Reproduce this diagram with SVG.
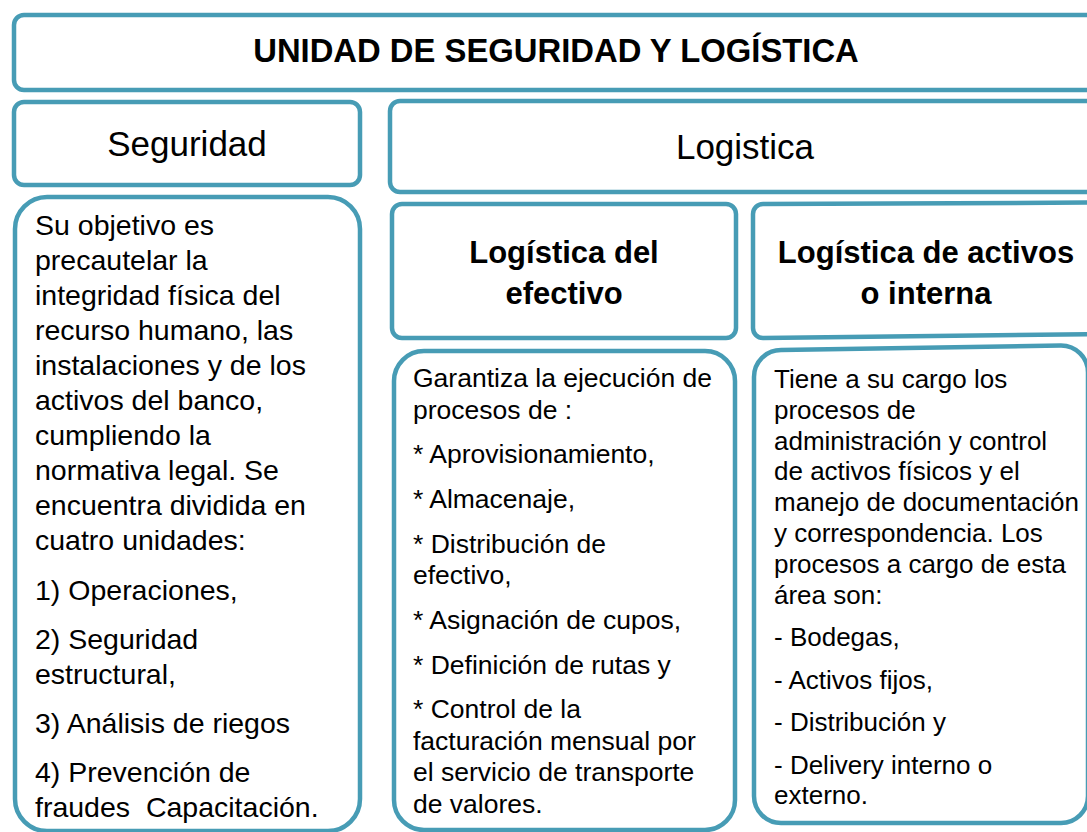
<svg xmlns="http://www.w3.org/2000/svg" width="1087" height="832" viewBox="0 0 1087 832">
<style>
.box{fill:#ffffff;stroke:#479CB5;stroke-width:4.5}
.t{font-family:"Liberation Sans",Arial,sans-serif;fill:#000}
.title{font-size:32.8px;font-weight:bold;text-anchor:middle}
.hdr{font-size:35px;text-anchor:middle}
.sub{font-size:31px;font-weight:bold;text-anchor:middle}
.b1{font-size:28.5px}
.b2{font-size:26.5px}
.b3{font-size:26px}
</style>
<rect x="0" y="0" width="1087" height="832" fill="#ffffff"/>
<g id="node-title">
<rect class="box" x="14" y="15" width="1090" height="75" rx="10"/>
<text class="t title" x="556" y="62">UNIDAD DE SEGURIDAD Y LOGÍSTICA</text>
</g>
<g id="node-seguridad">
<rect class="box" x="14" y="102" width="346" height="83" rx="10"/>
<text class="t hdr" x="187" y="156">Seguridad</text>
</g>
<g id="node-logistica">
<rect class="box" x="390" y="101" width="714" height="91" rx="10"/>
<text class="t hdr" x="745" y="159">Logistica</text>
</g>
<g id="node-seguridad-body">
<rect class="box" x="15" y="197" width="345" height="634" rx="32"/>
<text class="t b1">
<tspan x="35" y="235">Su objetivo es</tspan>
<tspan x="35" y="270">precautelar la</tspan>
<tspan x="35" y="305">integridad física del</tspan>
<tspan x="35" y="340">recurso humano, las</tspan>
<tspan x="35" y="375">instalaciones y de los</tspan>
<tspan x="35" y="410">activos del banco,</tspan>
<tspan x="35" y="445">cumpliendo la</tspan>
<tspan x="35" y="480">normativa legal. Se</tspan>
<tspan x="35" y="515">encuentra dividida en</tspan>
<tspan x="35" y="550">cuatro unidades:</tspan>
<tspan x="35" y="600">1) Operaciones,</tspan>
<tspan x="35" y="649">2) Seguridad</tspan>
<tspan x="35" y="684">estructural,</tspan>
<tspan x="35" y="733">3) Análisis de riegos</tspan>
<tspan x="35" y="782">4) Prevención de</tspan>
<tspan x="35" y="817">fraudes &#160;Capacitación.</tspan>
</text>
</g>
<g id="node-efectivo">
<rect class="box" x="392" y="204" width="344" height="134" rx="10"/>
<text class="t sub"><tspan x="564" y="263">Logística del</tspan><tspan x="564" y="304">efectivo</tspan></text>
</g>
<g id="node-activos">
<path class="box" d="M 763 204 L 1104 202.5 L 1104 334 L 763 338 A 10 10 0 0 1 753 328 L 753 214 A 10 10 0 0 1 763 204 Z"/>
<text class="t sub"><tspan x="926" y="263">Logística de activos</tspan><tspan x="926" y="304">o interna</tspan></text>
</g>
<g id="node-efectivo-body">
<rect class="box" x="394" y="351" width="341" height="479" rx="30"/>
<text class="t b2">
<tspan x="413" y="387">Garantiza la ejecución de</tspan>
<tspan x="413" y="418.5">procesos de :</tspan>
<tspan x="413" y="463.2">* Aprovisionamiento,</tspan>
<tspan x="413" y="507.9">* Almacenaje,</tspan>
<tspan x="413" y="552.6">* Distribución de</tspan>
<tspan x="413" y="584.1">efectivo,</tspan>
<tspan x="413" y="628.8">* Asignación de cupos,</tspan>
<tspan x="413" y="673.5">* Definición de rutas y</tspan>
<tspan x="413" y="718.2">* Control de la</tspan>
<tspan x="413" y="749.7">facturación mensual por</tspan>
<tspan x="413" y="781.2">el servicio de transporte</tspan>
<tspan x="413" y="812.7">de valores.</tspan>
</text>
</g>
<g id="node-activos-body">
<path class="box" d="M 781 350 L 1061 345.5 A 27 27 0 0 1 1088 372.5 L 1088 796 A 27 27 0 0 1 1061 823 L 781 823 A 27 27 0 0 1 754 796 L 754 377 A 27 27 0 0 1 781 350 Z"/>
<text class="t b3">
<tspan x="774" y="388">Tiene a su cargo los</tspan>
<tspan x="774" y="418.8">procesos de</tspan>
<tspan x="774" y="449.6">administración y control</tspan>
<tspan x="774" y="480.4">de activos físicos y el</tspan>
<tspan x="774" y="511.2">manejo de documentación</tspan>
<tspan x="774" y="542">y correspondencia. Los</tspan>
<tspan x="774" y="572.8">procesos a cargo de esta</tspan>
<tspan x="774" y="603.6">área son:</tspan>
<tspan x="774" y="646">- Bodegas,</tspan>
<tspan x="774" y="688.5">- Activos fijos,</tspan>
<tspan x="774" y="731">- Distribución y</tspan>
<tspan x="774" y="773.5">- Delivery interno o</tspan>
<tspan x="774" y="804.3">externo.</tspan>
</text>
</g>
<g id="connectors"></g>
</svg>
